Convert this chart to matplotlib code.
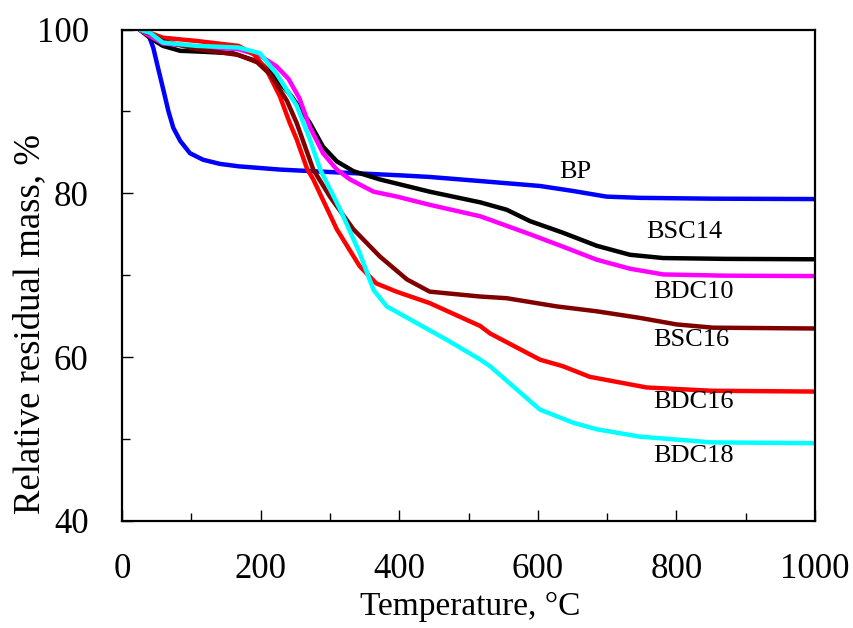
import matplotlib
matplotlib.use("Agg")
import matplotlib.pyplot as plt
from matplotlib.ticker import MultipleLocator

plt.rcParams['font.family'] = ['Liberation Serif', 'DejaVu Serif']

# TGA curves: temperature (°C) and relative residual mass (%)
t_bp = [25, 38, 45, 52, 60, 67, 74, 84, 98, 117, 141, 168, 228, 300, 401, 444, 517, 560, 603, 650, 699, 747, 850, 1000]
m_bp = [100, 99.4, 97.8, 95.3, 92.5, 90.0, 88.0, 86.4, 84.9, 84.1, 83.6, 83.3, 82.9, 82.6, 82.2, 82.0, 81.5, 81.2, 80.9, 80.3, 79.6, 79.45, 79.35, 79.3]

t_bsc14 = [25, 40, 59, 84, 113, 160, 199, 220, 245, 271, 290, 310, 334, 372, 444, 517, 555, 589, 636, 685, 733, 781, 870, 1000]
m_bsc14 = [100, 99.0, 98.0, 97.4, 97.3, 97.1, 96.0, 94.3, 91.8, 88.6, 85.7, 83.9, 82.7, 81.7, 80.2, 78.9, 78.0, 76.6, 75.2, 73.6, 72.5, 72.1, 72.0, 71.95]

t_bdc10 = [25, 40, 59, 108, 168, 199, 223, 240, 256, 271, 290, 310, 329, 363, 397, 444, 517, 589, 636, 685, 733, 781, 870, 1000]
m_bdc10 = [100, 99.2, 98.3, 97.9, 97.6, 96.8, 95.5, 94.0, 91.6, 88.1, 84.9, 82.9, 81.7, 80.2, 79.6, 78.6, 77.2, 75.0, 73.5, 71.9, 70.8, 70.1, 69.95, 69.9]

t_bsc16 = [25, 40, 59, 108, 168, 195, 214, 238, 252, 276, 300, 334, 372, 411, 444, 517, 555, 627, 685, 747, 800, 853, 1000]
m_bsc16 = [100, 99.5, 98.6, 97.6, 96.9, 96.0, 94.5, 91.3, 88.6, 82.9, 79.6, 75.6, 72.3, 69.5, 68.0, 67.4, 67.2, 66.2, 65.6, 64.8, 64.0, 63.6, 63.5]

t_bdc16 = [25, 40, 59, 108, 168, 190, 209, 228, 242, 252, 267, 276, 310, 343, 367, 396, 444, 517, 531, 603, 636, 675, 757, 850, 1000]
m_bdc16 = [100, 99.6, 99.0, 98.6, 98.0, 97.0, 95.0, 91.8, 88.6, 86.6, 83.0, 81.7, 75.6, 71.1, 69.0, 68.0, 66.6, 63.8, 62.9, 59.7, 58.9, 57.6, 56.3, 55.9, 55.8]

t_bdc18 = [25, 40, 59, 108, 168, 199, 223, 252, 271, 286, 315, 343, 363, 382, 416, 469, 517, 531, 603, 651, 685, 747, 850, 1000]
m_bdc18 = [100, 99.6, 98.4, 98.0, 97.8, 97.1, 94.6, 90.7, 86.6, 82.9, 78.0, 72.7, 68.2, 66.2, 64.6, 62.1, 59.7, 58.9, 53.6, 52.0, 51.2, 50.3, 49.6, 49.5]

series = [
    ("BP", t_bp, m_bp, "#0000ff"),
    ("BSC14", t_bsc14, m_bsc14, "#000000"),
    ("BDC10", t_bdc10, m_bdc10, "#ff00ff"),
    ("BDC16", t_bdc16, m_bdc16, "#ff0000"),
    ("BSC16", t_bsc16, m_bsc16, "#800000"),
    ("BDC18", t_bdc18, m_bdc18, "#00ffff"),
]

# curve labels placed beside each plateau
label_names = ["BP", "BSC14", "BDC10", "BSC16", "BDC16", "BDC18"]
label_t = [654, 812, 825, 822, 825, 825]
label_m = [82.6, 75.3, 67.9, 62.1, 54.5, 47.9]

fig = plt.figure(figsize=(8.54, 6.28), dpi=100)
ax = fig.add_axes([0.1429, 0.1704, 0.8114, 0.7826])

for name, t, m, c in series:
    ax.plot(t, m, color=c, lw=3.2, solid_capstyle='butt', solid_joinstyle='round')

for name, t, m in zip(label_names, label_t, label_m):
    ax.text(t, m, name, fontsize=19, ha='center', va='center')

ax.set_xlim(0, 1000)
ax.set_ylim(40, 100)
ax.xaxis.set_major_locator(MultipleLocator(200))
ax.xaxis.set_minor_locator(MultipleLocator(100))
ax.yaxis.set_major_locator(MultipleLocator(20))
ax.yaxis.set_minor_locator(MultipleLocator(10))

ax.tick_params(which='both', direction='in', top=False, right=False, width=1.0, labelsize=25)
ax.tick_params(which='major', length=8)
ax.tick_params(which='minor', length=6)
ax.tick_params(axis='x', which='major', pad=23)
ax.tick_params(axis='y', which='major', pad=24)

for s in ax.spines.values():
    s.set_linewidth(1.6)

ax.set_xlabel("Temperature, °C", fontsize=24)
ax.set_ylabel("Relative residual mass, %", fontsize=26.5)
ax.xaxis.set_label_coords(0.502, -0.143)
ax.yaxis.set_label_coords(-0.108, 0.40)

fig.savefig("out.png", dpi=100)
